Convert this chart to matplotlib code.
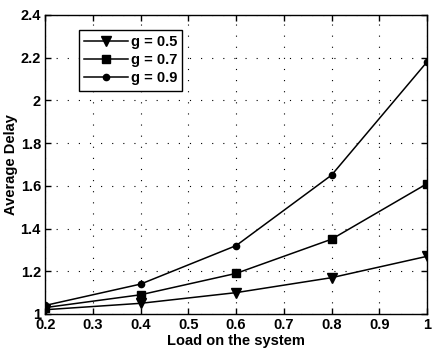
import matplotlib
matplotlib.use("Agg")
import matplotlib.pyplot as plt
import numpy as np

# load on the system (x) and average delay for each g
load = [0.2, 0.4, 0.6, 0.8, 1.0]
delay_g05 = [1.02, 1.05, 1.10, 1.17, 1.27]
delay_g07 = [1.03, 1.09, 1.19, 1.35, 1.61]
delay_g09 = [1.04, 1.14, 1.32, 1.65, 2.18]
labels = ["g = 0.5", "g = 0.7", "g = 0.9"]

xticks = [0.2, 0.3, 0.4, 0.5, 0.6, 0.7, 0.8, 0.9, 1.0]
xticklabels = ["0.2", "0.3", "0.4", "0.5", "0.6", "0.7", "0.8", "0.9", "1"]
yticks = [1.0, 1.2, 1.4, 1.6, 1.8, 2.0, 2.2, 2.4]
yticklabels = ["1", "1.2", "1.4", "1.6", "1.8", "2", "2.2", "2.4"]

plt.rcParams["font.family"] = ["Liberation Sans", "DejaVu Sans"]
plt.rcParams["font.size"] = 10.5

fig = plt.figure(figsize=(4.34, 3.54), dpi=100)
ax = fig.add_axes([0.104, 0.113, 0.880, 0.845])

ax.plot(load, delay_g05, color="black", lw=1.1, marker="v", ms=6.5, label=labels[0])
ax.plot(load, delay_g07, color="black", lw=1.1, marker="s", ms=6, label=labels[1])
ax.plot(load, delay_g09, color="black", lw=1.1, marker="o", ms=4.5, label=labels[2])

ax.set_xlim(0.2, 1.0)
ax.set_ylim(1.0, 2.4)
ax.set_xticks(xticks)
ax.set_xticklabels(xticklabels)
ax.set_yticks(yticks)
ax.set_yticklabels(yticklabels)
ax.tick_params(direction="in", top=True, right=True, length=4, width=1, pad=3)
for lab in ax.get_xticklabels() + ax.get_yticklabels():
    lab.set_fontweight("bold")

ax.grid(True, color="black", linestyle=(0, (1, 9)), linewidth=0.8)
for s in ax.spines.values():
    s.set_linewidth(1)

ax.set_xlabel("Load on the system", fontweight="bold", labelpad=1)
ax.set_ylabel("Average Delay", fontweight="bold", labelpad=2)

leg = ax.legend(loc="upper left", bbox_to_anchor=(0.07, 0.975), fancybox=False,
                edgecolor="black", framealpha=1, handlelength=3.0,
                borderpad=0.35, labelspacing=0.3, handletextpad=0.2,
                prop={"weight": "bold", "size": 10.5})
leg.get_frame().set_linewidth(1)

fig.savefig("out.png", dpi=100)
